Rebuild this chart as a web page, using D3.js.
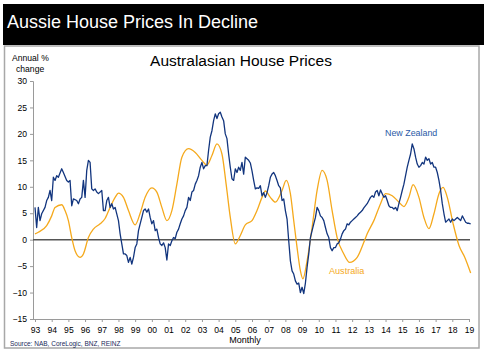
<!DOCTYPE html>
<html><head><meta charset="utf-8">
<script src="https://cdn.jsdelivr.net/npm/d3@7"></script>
<style>
html,body{margin:0;padding:0;background:#fff;}
svg{display:block;font-family:"Liberation Sans",Arial,sans-serif;}
</style></head>
<body>
<svg id="c" width="487" height="352"></svg>
<script>
// ---- data (decimal years, annual % change) ----
const nzDates = [1993.0,1993.1,1993.2,1993.3,1993.4,1993.6,1993.7,1993.8,1993.9,1994.0,1994.1,1994.2,1994.3,1994.4,1994.6,1994.7,1994.9,1995.0,1995.1,1995.2,1995.3,1995.5,1995.6,1995.7,1995.8,1995.9,1996.0,1996.1,1996.2,1996.3,1996.4,1996.5,1996.6,1996.7,1996.8,1997.0,1997.1,1997.2,1997.3,1997.4,1997.5,1997.6,1997.7,1997.8,1998.0,1998.1,1998.2,1998.3,1998.4,1998.5,1998.6,1998.7,1998.8,1998.9,1999.0,1999.1,1999.2,1999.3,1999.4,1999.5,1999.6,1999.7,1999.8,1999.9,2000.0,2000.1,2000.2,2000.3,2000.4,2000.5,2000.6,2000.7,2000.8,2000.9,2001.0,2001.1,2001.2,2001.3,2001.4,2001.5,2001.6,2001.7,2001.8,2001.9,2002.0,2002.1,2002.2,2002.3,2002.4,2002.5,2002.6,2002.7,2002.8,2002.9,2003.0,2003.1,2003.2,2003.3,2003.4,2003.5,2003.6,2003.7,2003.8,2003.9,2004.0,2004.1,2004.2,2004.3,2004.4,2004.5,2004.6,2004.7,2004.8,2004.9,2005.0,2005.1,2005.2,2005.3,2005.4,2005.5,2005.6,2005.7,2005.8,2005.9,2006.0,2006.1,2006.2,2006.3,2006.4,2006.5,2006.6,2006.7,2006.8,2006.9,2007.0,2007.1,2007.2,2007.3,2007.4,2007.5,2007.6,2007.7,2007.8,2007.9,2008.0,2008.1,2008.2,2008.3,2008.4,2008.5,2008.6,2008.7,2008.8,2008.9,2009.0,2009.1,2009.2,2009.3,2009.4,2009.5,2009.6,2009.7,2009.8,2009.9,2010.0,2010.1,2010.2,2010.3,2010.4,2010.5,2010.6,2010.7,2010.8,2010.9,2011.0,2011.1,2011.2,2011.3,2011.4,2011.5,2011.6,2011.7,2011.8,2011.9,2012.0,2012.1,2012.2,2012.3,2012.4,2012.5,2012.6,2012.7,2012.9,2013.0,2013.1,2013.2,2013.3,2013.4,2013.5,2013.6,2013.7,2013.8,2013.9,2014.0,2014.1,2014.2,2014.3,2014.4,2014.5,2014.6,2014.7,2014.8,2014.9,2015.0,2015.1,2015.2,2015.3,2015.4,2015.5,2015.6,2015.7,2015.8,2015.9,2016.0,2016.1,2016.2,2016.3,2016.4,2016.5,2016.6,2016.7,2016.8,2016.9,2017.0,2017.1,2017.2,2017.3,2017.4,2017.5,2017.6,2017.7,2017.8,2017.9,2018.0,2018.1,2018.2,2018.3,2018.4,2018.5,2018.6,2018.7,2018.8,2018.9,2019.0,2019.1];
const nzValues = [6.1,2.3,6.1,3.6,4.9,6.1,7.4,8.0,9.3,7.4,11.8,11.2,12.1,11.8,13.4,12.7,11.2,10.9,11.2,6.4,7.7,7.4,6.8,7.7,8.0,11.2,8.0,13.1,15.0,14.6,9.6,9.3,9.6,9.0,8.7,9.3,5.5,5.5,7.4,8.0,6.1,6.8,5.8,6.1,3.6,1.1,-0.8,-2.7,-2.7,-3.0,-4.3,-3.35,-4.6,-3.35,-1.5,-0.8,1.7,3.0,4.2,5.5,5.8,5.2,5.8,4.2,3.0,3.6,1.7,2.0,0.4,-0.8,-1.1,-0.6,-1.5,-3.85,-0.8,-1.1,-0.2,0.4,0.2,1.4,2.0,3.0,3.9,4.5,5.5,6.1,8.0,7.4,9.0,9.3,10.5,11.2,12.1,13.7,14.6,13.4,14.0,14.0,16.9,19.4,20.6,22.5,23.8,22.9,23.8,24.1,23.2,22.5,20.0,19.1,16.2,13.7,11.5,11.2,13.4,12.7,13.7,13.1,14.6,12.4,15.6,15.3,15.0,14.5,13.0,11.2,9.6,9.8,9.7,10.2,8.3,8.9,8.0,8.9,10.2,11.8,12.4,12.7,12.1,11.2,10.2,9.8,7.4,7.7,5.5,3.9,-0.2,-4.0,-5.9,-6.5,-7.8,-8.4,-8.2,-10.0,-9.0,-10.2,-8.2,-5.2,-2.7,0.4,1.7,3.0,4.2,6.1,5.5,4.5,4.2,3.6,2.3,1.1,0.4,-1.5,-2.1,-1.5,-1.5,-0.8,-0.6,0.1,1.1,1.7,2.0,3.0,2.8,3.3,3.6,3.9,4.2,4.5,4.9,5.2,5.5,6.0,6.8,7.4,8.0,8.3,8.0,9.0,9.3,8.3,9.4,8.7,8.0,8.3,7.4,6.4,6.1,6.1,5.8,6.1,5.5,6.8,8.0,9.3,10.5,12.1,13.7,15.0,16.2,18.1,17.2,15.6,14.3,13.7,14.0,14.6,14.3,15.6,15.0,15.3,14.3,14.6,13.7,13.7,12.7,11.2,9.3,6.8,4.9,3.3,3.6,3.9,3.3,3.9,3.6,3.9,4.2,3.9,3.6,4.5,3.9,3.3,3.1,3.1,3.0];

const auDates = [1993.0,1993.2,1993.7,1994.0,1994.2,1994.6,1994.8,1995.0,1995.2,1995.4,1995.7,1995.9,1996.2,1996.5,1996.9,1997.2,1997.5,1997.8,1998.0,1998.3,1998.6,1999.0,1999.3,1999.6,2000.0,2000.3,2000.6,2000.9,2001.2,2001.5,2001.8,2002.2,2002.6,2003.0,2003.3,2003.6,2003.9,2004.2,2004.45,2004.7,2005.0,2005.3,2005.6,2006.0,2006.3,2006.6,2006.8,2007.1,2007.4,2007.8,2008.05,2008.3,2008.5,2008.7,2008.9,2009.05,2009.3,2009.6,2009.9,2010.2,2010.5,2010.8,2011.1,2011.5,2011.85,2012.3,2012.7,2012.9,2013.3,2013.7,2014.0,2014.4,2014.8,2015.1,2015.4,2015.65,2016.0,2016.3,2016.6,2016.9,2017.2,2017.45,2017.7,2018.05,2018.4,2018.75,2019.1];
const auValues = [1.1,1.4,2.65,4.5,6.1,6.6,5.5,3.6,0.4,-2.1,-3.35,-2.7,0.4,2.0,3.0,4.0,6.1,8.0,8.8,8.0,5.5,2.8,5.0,8.0,9.8,9.0,6.1,3.6,5.5,10.5,15.6,17.2,16.5,15.0,14.1,15.9,18.1,16.2,10.5,4.2,-0.8,0.8,2.8,3.6,5.5,8.0,9.2,8.0,7.1,9.3,11.2,8.7,3.6,-1.5,-5.9,-7.4,-4.0,2.3,9.3,13.1,11.2,5.5,0.4,-2.7,-4.3,-3.35,-0.5,1.1,3.6,6.8,8.7,8.3,7.1,6.25,8.0,10.4,8.0,4.2,2.1,4.9,8.7,9.9,8.0,3.0,-1.1,-3.35,-6.3];

const yTicks = [30,25,20,15,10,5,0,-5,-10,-15];
const xTickYears = d3.range(1993, 2020);
const xTickLabels = xTickYears.map(y => String(y % 100).padStart(2, "0"));

// ---- drawing ----
const svg = d3.select("#c");
const NZ_COLOR = "#12357e", AU_COLOR = "#f5a91c";

// title bar
svg.append("rect").attr("x",3).attr("y",4).attr("width",481).attr("height",41).attr("fill","#000");
svg.append("text").attr("x",7).attr("y",28).attr("fill","#fff")
  .attr("font-size",18).text("Aussie House Prices In Decline");

// frame
svg.append("rect").attr("x",4.5).attr("y",46).attr("width",474.5).attr("height",302)
  .attr("fill","#fff").attr("stroke","#a8a8a8").attr("stroke-width",1.5);

const x = d3.scaleLinear().domain([1993, 2019]).range([35, 469]);
const y = d3.scaleLinear().domain([-15, 30]).range([319, 81]);

// chart title
svg.append("text").attr("x",241).attr("y",66).attr("text-anchor","middle")
  .attr("font-size",15.5).attr("fill","#000").text("Australasian House Prices");

svg.append("text").attr("x",12).attr("y",61).attr("font-size",8.6).attr("fill","#000").text("Annual %");
svg.append("text").attr("x",16).attr("y",72).attr("font-size",8.6).attr("fill","#000").text("change");

// y axis
const yAxis = d3.axisLeft(y).tickValues(yTicks).tickSize(3).tickPadding(3).tickFormat(d3.format("d"));
const gy = svg.append("g").attr("transform","translate(33,0)").call(yAxis);
gy.select(".domain").attr("stroke","#9a9a9a").attr("stroke-width",1);
gy.selectAll(".tick line").attr("stroke","#9a9a9a");
gy.selectAll(".tick text").attr("font-size",8.6).attr("fill","#000")
  .attr("font-family","'Liberation Sans',Arial,sans-serif");

// x axis
const xAxis = d3.axisBottom(x).tickValues(xTickYears).tickSize(3).tickPadding(5)
  .tickFormat((d,i) => xTickLabels[i]);
const gx = svg.append("g").attr("transform","translate(0,319)").call(xAxis);
gx.select(".domain").attr("d","M33,0.5H470").attr("stroke","#9a9a9a");
gx.selectAll(".tick line").attr("stroke","#9a9a9a");
gx.selectAll(".tick text").attr("font-size",8.6).attr("fill","#000")
  .attr("font-family","'Liberation Sans',Arial,sans-serif");

svg.append("text").attr("x",245).attr("y",343).attr("text-anchor","middle")
  .attr("font-size",9).attr("fill","#000").text("Monthly");
svg.append("text").attr("x",10).attr("y",346).attr("font-size",6.5).attr("fill","#1a2a5a")
  .text("Source: NAB, CoreLogic, BNZ, REINZ");

// zero line
svg.append("line").attr("x1",33).attr("x2",470).attr("y1",y(0)).attr("y2",y(0))
  .attr("stroke","#555").attr("stroke-width",1.5);

// series
const auData = auDates.map((d,i)=>[d, auValues[i]]);
const nzData = nzDates.map((d,i)=>[d, nzValues[i]]);
svg.append("path").datum(auData).attr("fill","none").attr("stroke",AU_COLOR).attr("stroke-width",1.3)
  .attr("d", d3.line().x(d=>x(d[0])).y(d=>y(d[1])).curve(d3.curveMonotoneX));
svg.append("path").datum(nzData).attr("fill","none").attr("stroke",NZ_COLOR).attr("stroke-width",1.3)
  .attr("stroke-linejoin","round")
  .attr("d", d3.line().x(d=>x(d[0])).y(d=>y(d[1])));

// labels
svg.append("text").attr("x",385).attr("y",136).attr("font-size",8.9).attr("fill","#2a5aa6").text("New Zealand");
svg.append("text").attr("x",329).attr("y",274).attr("font-size",9.1).attr("fill",AU_COLOR).text("Australia");
</script>
</body></html>
